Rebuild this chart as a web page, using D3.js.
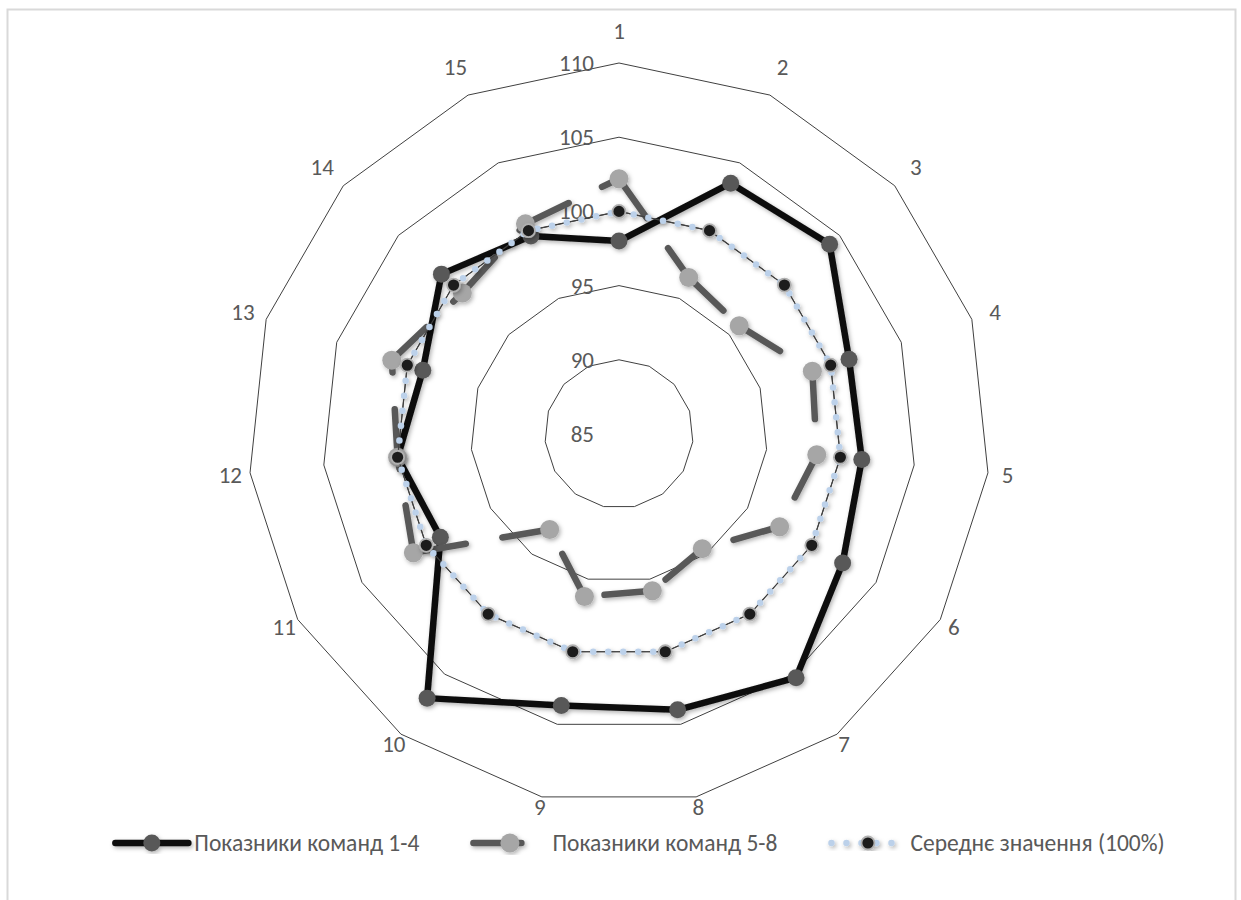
<!DOCTYPE html>
<html>
<head>
<meta charset="utf-8">
<script src="https://cdn.jsdelivr.net/npm/d3@7"></script>
<style>
  html, body { margin: 0; padding: 0; background: #fff; }
  svg { display: block; }
  text { font-family: Carlito, Lato, "Noto Sans", sans-serif; fill: #595959; }
</style>
</head>
<body>
<svg id="chart" width="1241" height="900"></svg>
<script>
// Axis categories (15 criteria)
const categories = ["1", "2", "3", "4", "5", "6", "7", "8", "9", "10", "11", "12", "13", "14", "15"];

// Series values
const teams1to4 = [98.0, 103.5, 104.1, 101.3, 101.45, 102.4, 105.3, 104.0, 103.7, 107.0, 98.9, 100.0, 98.9, 101.1, 99.6];
const teams5to8 = [102.2, 96.55, 95.9, 98.7, 98.4, 97.5, 94.55, 95.8, 96.2, 92.95, 101.0, 100.0, 101.1, 99.2, 100.5];
const averageValue = [100, 100, 100, 100, 100, 100, 100, 100, 100, 100, 100, 100, 100, 100, 100];

// Radial axis ticks
const radialTicks = [85, 90, 95, 100, 105, 110];

// Legend labels
const seriesNames = ["Показники команд 1-4", "Показники команд 5-8", "Середнє значення (100%)"];

const svg = d3.select("#chart");
const cx = 619, cy = 434, rMax = 371;
const labelSize = 23, legendSize = 23.5;

// frame
svg.append("rect")
  .attr("x", 7.5).attr("y", 9.5)
  .attr("width", 1228).attr("height", 900)
  .attr("fill", "#fff").attr("stroke", "#d9d9d9").attr("stroke-width", 2);

const defs = svg.append("defs");
const f = defs.append("filter").attr("id", "shadow")
  .attr("x", "-10%").attr("y", "-10%").attr("width", "120%").attr("height", "120%");
f.append("feDropShadow").attr("dx", 1.5).attr("dy", 2).attr("stdDeviation", 2)
  .attr("flood-color", "#000").attr("flood-opacity", 0.3);

const r = d3.scaleLinear().domain([85, 110]).range([0, rMax]);
const angle = d3.scalePoint().domain(categories).range([0, 2 * Math.PI * (categories.length - 1) / categories.length]);

function pt(cat, v) {
  const a = angle(cat), rr = r(v);
  return [cx + rr * Math.sin(a), cy - rr * Math.cos(a)];
}

// grid rings
const gRings = svg.append("g");
radialTicks.filter(t => r(t) > 0).forEach(t => {
  gRings.append("polygon")
    .attr("points", categories.map(c => pt(c, t).join(",")).join(" "))
    .attr("fill", "none").attr("stroke", "#404040").attr("stroke-width", 1);
});

// radial tick labels
svg.append("g").selectAll("text").data(radialTicks).join("text")
  .attr("x", cx - 25)
  .attr("y", d => cy - r(d))
  .attr("text-anchor", "end")
  .attr("dominant-baseline", "central")
  .attr("font-size", labelSize)
  .text(d => d);

// category labels
const labelR = d => 392 + 11 * Math.cos(angle(d));
svg.append("g").selectAll("text").data(categories).join("text")
  .attr("x", d => cx + labelR(d) * Math.sin(angle(d)))
  .attr("y", d => cy - labelR(d) * Math.cos(angle(d)))
  .attr("text-anchor", "middle")
  .attr("dominant-baseline", "central")
  .attr("font-size", labelSize)
  .text(d => d);

const closed = d3.line().curve(d3.curveLinearClosed);

// Series 1: solid black line, dark grey markers
const g1 = svg.append("g").attr("filter", "url(#shadow)");
const pts1 = categories.map((c, i) => pt(c, teams1to4[i]));
g1.append("path").attr("d", closed(pts1))
  .attr("fill", "none").attr("stroke", "#0d0d0d").attr("stroke-width", 6.5)
  .attr("stroke-linejoin", "round");
g1.selectAll("circle").data(pts1).join("circle")
  .attr("cx", d => d[0]).attr("cy", d => d[1]).attr("r", 8.5)
  .attr("fill", "#595959");

// Series 2: long-dash grey line (pattern restarts at every vertex), light grey markers
const g2 = svg.append("g").attr("filter", "url(#shadow)");
const pts2 = categories.map((c, i) => pt(c, teams5to8[i]));
g2.selectAll("line").data(pts2).join("line")
  .attr("x1", d => d[0]).attr("y1", d => d[1])
  .attr("x2", (d, i) => pts2[(i + 1) % pts2.length][0])
  .attr("y2", (d, i) => pts2[(i + 1) % pts2.length][1])
  .attr("stroke", "#595959").attr("stroke-width", 6.5)
  .attr("stroke-linecap", "round").attr("stroke-dasharray", "48 37");
g2.selectAll("circle").data(pts2).join("circle")
  .attr("cx", d => d[0]).attr("cy", d => d[1]).attr("r", 9.5)
  .attr("fill", "#a6a6a6");

// Series 3: dotted light-blue line, black markers
const g3 = svg.append("g").attr("filter", "url(#shadow)");
const pts3 = categories.map((c, i) => pt(c, averageValue[i]));
g3.append("path").attr("d", closed(pts3))
  .attr("fill", "none").attr("stroke", "#404040").attr("stroke-width", 1.2);
g3.append("path").attr("d", closed(pts3))
  .attr("fill", "none").attr("stroke", "#bcd1ea").attr("stroke-width", 6.5)
  .attr("stroke-linecap", "round").attr("stroke-dasharray", "0 15");
g3.selectAll("circle").data(pts3).join("circle")
  .attr("cx", d => d[0]).attr("cy", d => d[1]).attr("r", 6.5)
  .attr("fill", "#1f1f1f").attr("stroke", "#b0b0b0").attr("stroke-width", 1.8);

// legend
const legY = 843, symW = 73, textGap = 6, itemGap = 54;
const leg = svg.append("g");
const items = seriesNames.map((name, i) => {
  const g = leg.append("g");
  const t = g.append("text").attr("x", symW + textGap).attr("y", legY)
    .attr("dominant-baseline", "central").attr("font-size", legendSize).text(name);
  return { g, i, w: symW + textGap + t.node().getComputedTextLength() };
});
const total = d3.sum(items, d => d.w) + itemGap * (items.length - 1);
let x0 = 640 - total / 2;
items.forEach(it => {
  const g = it.g.attr("transform", `translate(${x0},0)`);
  const s = g.insert("g", "text").attr("filter", "url(#shadow)");
  if (it.i === 0) {
    s.append("line").attr("x1", 0).attr("x2", symW).attr("y1", legY).attr("y2", legY)
      .attr("stroke", "#0d0d0d").attr("stroke-width", 6.5).attr("stroke-linecap", "round");
    s.append("circle").attr("cx", symW / 2).attr("cy", legY).attr("r", 8.5).attr("fill", "#595959");
  } else if (it.i === 1) {
    s.append("line").attr("x1", 0).attr("x2", symW).attr("y1", legY).attr("y2", legY)
      .attr("stroke", "#595959").attr("stroke-width", 6.5).attr("stroke-linecap", "round")
      .attr("stroke-dasharray", "48 37");
    s.append("circle").attr("cx", symW / 2).attr("cy", legY).attr("r", 9.5).attr("fill", "#a6a6a6");
  } else {
    s.append("line").attr("x1", 0).attr("x2", symW).attr("y1", legY).attr("y2", legY)
      .attr("stroke", "#bcd1ea").attr("stroke-width", 6.5).attr("stroke-linecap", "round")
      .attr("stroke-dasharray", "0 15");
    s.append("circle").attr("cx", symW / 2).attr("cy", legY).attr("r", 6.5)
      .attr("fill", "#1f1f1f").attr("stroke", "#b0b0b0").attr("stroke-width", 1.8);
  }
  x0 += it.w + itemGap;
});
</script>
</body>
</html>
